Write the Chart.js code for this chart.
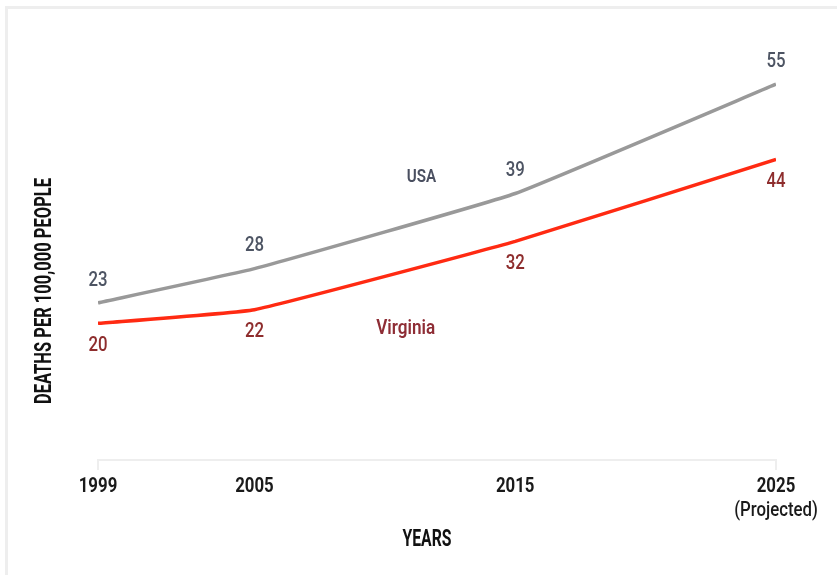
<!DOCTYPE html>
<html>
<head>
<meta charset="utf-8">
<style>
    html, body { margin: 0; padding: 0; background: #fff; }
    #wrap { position: relative; width: 837px; height: 575px; overflow: hidden; }
    #frame {
        position: absolute; left: 5px; top: 6px; right: -10px; bottom: -10px;
        border-left: 3px solid #eeeeee; border-top: 3px solid #eeeeee;
    }
    canvas { position: absolute; left: 0; top: 0; }
</style>
<script src="https://cdn.jsdelivr.net/npm/chart.js@4/dist/chart.umd.min.js"></script>
</head>
<body>
<div id="wrap">
    <div id="frame"></div>
    <canvas id="deathsChart" width="837" height="575"></canvas>
</div>
<script>
// Deaths per 100,000 people, Virginia vs USA
const years = [1999, 2005, 2015, 2025];
const usaValues = [23, 28, 39, 55];
const virginiaValues = [20, 22, 32, 44];
const projectedYear = 2025;

const FONT = "Roboto, 'DejaVu Sans', sans-serif";
const CONDENSE = 0.8;   // no condensed face installed, so squeeze horizontally

const tickLabel = v => v === projectedYear ? [String(v), '(Projected)'] : [String(v)];

document.addEventListener("DOMContentLoaded", () => {

    // draw text narrowed horizontally around its centre
    const drawNarrow = (ctx, text, cx, cy, font, color, opts = {}) => {
        ctx.save();
        ctx.translate(cx, cy);
        if (opts.rotate) ctx.rotate(-Math.PI / 2);
        ctx.font = font;
        let sx = CONDENSE;
        if (opts.width) sx = opts.width / ctx.measureText(text).width;
        ctx.scale(sx, 1);
        ctx.fillStyle = color;
        ctx.textAlign = 'center';
        ctx.textBaseline = 'middle';
        ctx.fillText(text, 0, 0);
        ctx.restore();
    };

    // Tick labels, value labels, series names and axis titles
    const annotations = {
        id: 'annotations',
        afterDatasetsDraw(chart) {
            const { ctx, scales: { x, y } } = chart;

            // year labels under the axis
            years.forEach(v => {
                tickLabel(v).forEach((line, k) => {
                    const font = k === 0 ? `bold 21px ${FONT}` : `500 21px ${FONT}`;
                    drawNarrow(ctx, line, x.getPixelForValue(v), 487 + k * 24, font, '#1a1a1a');
                });
            });

            // point values: USA above the line, Virginia below
            chart.data.datasets.forEach((ds, i) => {
                const meta = chart.getDatasetMeta(i);
                meta.data.forEach((pt, j) => {
                    drawNarrow(ctx, String(ds.data[j].y), pt.x, pt.y + ds.labelOffset,
                        `500 21px ${FONT}`, ds.labelColor);
                });
            });

            // series names
            drawNarrow(ctx, 'USA', x.getPixelForValue(2011.4), y.getPixelForValue(41.4),
                `600 19px ${FONT}`, '#4a4f60');
            drawNarrow(ctx, 'Virginia', x.getPixelForValue(2010.8), y.getPixelForValue(19.2),
                `600 20px ${FONT}`, '#8e2d35', { width: 59 });

            // axis titles
            drawNarrow(ctx, 'DEATHS PER 100,000 PEOPLE', 45, 291, `bold 24px ${FONT}`, '#111',
                { rotate: true, width: 226 });
            drawNarrow(ctx, 'YEARS', 427, 540, `bold 24px ${FONT}`, '#111', { width: 49 });
        }
    };

    const ctx = document.getElementById('deathsChart').getContext('2d');

    const toPoints = values => values.map((v, i) => ({ x: years[i], y: v }));

    new Chart(ctx, {
        type: 'line',
        data: {
            datasets: [
                {
                    label: 'USA',
                    data: toPoints(usaValues),
                    borderColor: '#999999',
                    labelColor: '#4d5463',
                    labelOffset: -22.5,
                    borderWidth: 3.5,
                    pointRadius: 0,
                    tension: 0.1
                },
                {
                    label: 'Virginia',
                    data: toPoints(virginiaValues),
                    borderColor: '#ff2a12',
                    labelColor: '#8e2d2d',
                    labelOffset: 22.5,
                    borderWidth: 3.5,
                    pointRadius: 0,
                    tension: 0.1
                }
            ]
        },
        options: {
            responsive: false,
            animation: false,
            layout: { padding: { left: 98, right: 61, top: 50, bottom: 0 } },
            plugins: {
                legend: { display: false },
                tooltip: { enabled: false }
            },
            scales: {
                x: {
                    type: 'linear',
                    min: years[0],
                    max: years[years.length - 1],
                    afterBuildTicks: axis => { axis.ticks = years.map(v => ({ value: v })); },
                    afterFit: axis => { axis.height = 115; },
                    border: { display: true, color: '#eeeeee', width: 2 },
                    grid: {
                        drawOnChartArea: false,
                        drawTicks: true,
                        tickLength: 10,
                        lineWidth: 2,
                        color: c => (c.index === 0 || c.index === years.length - 1) ? '#eeeeee' : 'rgba(0,0,0,0)'
                    },
                    ticks: {
                        display: false,
                        autoSkip: false
                    }
                },
                y: {
                    display: false,
                    min: 0,
                    max: 60
                }
            }
        },
        plugins: [annotations]
    });
});
</script>
</body>
</html>
